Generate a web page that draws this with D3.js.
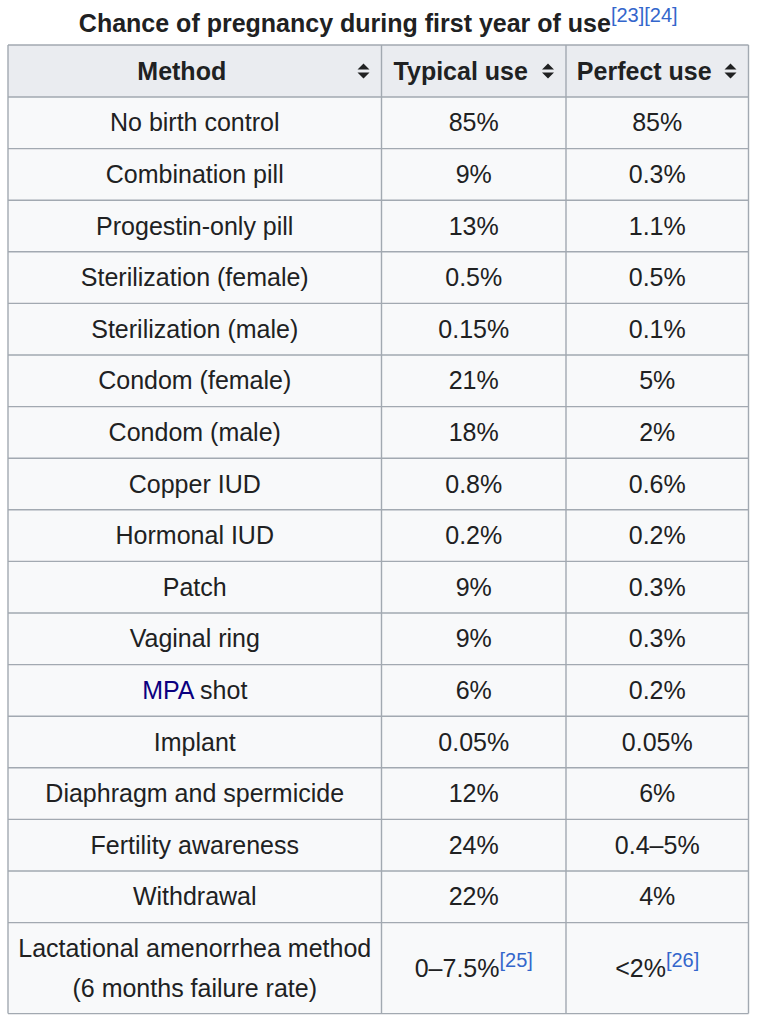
<!DOCTYPE html>
<html>
<head>
<meta charset="utf-8">
<script src="https://cdn.jsdelivr.net/npm/d3@7"></script>
<style>
  body { margin: 0; background: #fff; }
  svg text { font-family: "Liberation Sans", Arial, sans-serif; }
</style>
</head>
<body>
<div id="vis"></div>
<script>
// table content
var title = "Chance of pregnancy during first year of use",
  titleRefs = "[23][24]",
  columns = ["Method", "Typical use", "Perfect use"],
  methods = ["No birth control", "Combination pill", "Progestin-only pill",
    "Sterilization (female)", "Sterilization (male)", "Condom (female)",
    "Condom (male)", "Copper IUD", "Hormonal IUD", "Patch", "Vaginal ring",
    "MPA shot", "Implant", "Diaphragm and spermicide", "Fertility awareness",
    "Withdrawal", "Lactational amenorrhea method\n(6 months failure rate)"],
  typicalUse = ["85%", "9%", "13%", "0.5%", "0.15%", "21%", "18%", "0.8%", "0.2%",
    "9%", "9%", "6%", "0.05%", "12%", "24%", "22%", "0–7.5%"],
  perfectUse = ["85%", "0.3%", "1.1%", "0.5%", "0.1%", "5%", "2%", "0.6%", "0.2%",
    "0.3%", "0.3%", "0.2%", "0.05%", "6%", "0.4–5%", "4%", "<2%"],
  typicalRefs = ["", "", "", "", "", "", "", "", "", "", "", "", "", "", "", "", "[25]"],
  perfectRefs = ["", "", "", "", "", "", "", "", "", "", "", "", "", "", "", "", "[26]"],
  linkWord = "MPA";

var width = 759, height = 1024,
  tLeft = 8, tRight = 748.5,
  tTop = 45, headH = 52, rowH = 51.6, tallH = 91,
  fs = 25, supFs = 20, textCol = "#202122", border = "#a2a9b1";

// column edges of the three columns
var colEdges = [tLeft, 381.5, 566, tRight];

var rows = methods.map(function(m, i) {
  return {method: m, typical: typicalUse[i], perfect: perfectUse[i],
    tRef: typicalRefs[i], pRef: perfectRefs[i]};
});

// row tops
var acc = tTop + headH;
rows.forEach(function(r) {
  r.y = acc;
  r.h = r.method.indexOf("\n") >= 0 ? tallH : rowH;
  acc += r.h;
});
var tBottom = acc;

var svg = d3.select("#vis").append("svg")
  .attr("width", width)
  .attr("height", height);

// title
var t = svg.append("text")
  .attr("x", (tLeft + tRight) / 2)
  .attr("y", 32)
  .attr("text-anchor", "middle")
  .style("font-size", fs + "px")
  .style("font-weight", "bold")
  .style("fill", textCol);
t.append("tspan").text(title);
t.append("tspan").attr("dy", -10).style("font-size", supFs + "px")
  .style("font-weight", "normal").style("fill", "#3366cc").text(titleRefs);

// backgrounds
svg.append("rect")
  .attr("x", tLeft).attr("y", tTop)
  .attr("width", tRight - tLeft).attr("height", headH)
  .style("fill", "#eaecf0");
svg.append("rect")
  .attr("x", tLeft).attr("y", tTop + headH)
  .attr("width", tRight - tLeft).attr("height", tBottom - tTop - headH)
  .style("fill", "#f8f9fa");

// grid lines
var hLines = [tTop, tTop + headH].concat(rows.map(function(r) { return r.y + r.h; }));
svg.selectAll("line.h")
  .data(hLines).enter().append("line")
  .attr("x1", tLeft).attr("x2", tRight)
  .attr("y1", function(d) { return d; }).attr("y2", function(d) { return d; })
  .style("stroke", border).style("stroke-width", 1.4);
svg.selectAll("line.v")
  .data(colEdges).enter().append("line")
  .attr("x1", function(d) { return d; }).attr("x2", function(d) { return d; })
  .attr("y1", tTop).attr("y2", tBottom)
  .style("stroke", border).style("stroke-width", 1.4);

// header cells
var head = svg.selectAll("g.head")
  .data(columns).enter().append("g");
head.append("text")
  .attr("x", function(d, i) { return (colEdges[i] + colEdges[i + 1] - 26) / 2; })
  .attr("y", tTop + headH / 2 + 9)
  .attr("text-anchor", "middle")
  .style("font-size", fs + "px")
  .style("font-weight", "bold")
  .style("fill", textCol)
  .text(function(d) { return d; });
// sort arrows
head.append("path")
  .attr("transform", function(d, i) {
    return "translate(" + (colEdges[i + 1] - 18) + "," + (tTop + headH / 2) + ")";
  })
  .attr("d", "M-6,-1.5 L0,-7.5 L6,-1.5 Z M-6,1.5 L0,7.5 L6,1.5 Z")
  .style("fill", textCol);

// body cells
function cellText(g, x, y, main, ref) {
  var tx = g.append("text")
    .attr("x", x).attr("y", y)
    .attr("text-anchor", "middle")
    .style("font-size", fs + "px")
    .style("fill", textCol);
  tx.append("tspan").text(main);
  if (ref) {
    tx.append("tspan").attr("dy", -10).style("font-size", supFs + "px")
      .style("fill", "#3366cc").text(ref);
  }
}

var rowG = svg.selectAll("g.row")
  .data(rows).enter().append("g");

rowG.each(function(d) {
  var g = d3.select(this),
    mid = d.y + d.h / 2,
    lines = d.method.split("\n");
  lines.forEach(function(line, k) {
    var ly = mid + 8.5 + (k - (lines.length - 1) / 2) * 40;
    var tx = g.append("text")
      .attr("x", (colEdges[0] + colEdges[1]) / 2)
      .attr("y", ly)
      .attr("text-anchor", "middle")
      .style("font-size", fs + "px")
      .style("fill", textCol);
    if (line.indexOf(linkWord + " ") === 0) {
      tx.append("tspan").style("fill", "#0b0080").text(linkWord);
      tx.append("tspan").text(line.slice(linkWord.length));
    } else {
      tx.text(line);
    }
  });
  cellText(g, (colEdges[1] + colEdges[2]) / 2, mid + 8.5, d.typical, d.tRef);
  cellText(g, (colEdges[2] + colEdges[3]) / 2, mid + 8.5, d.perfect, d.pRef);
});
</script>
</body>
</html>
